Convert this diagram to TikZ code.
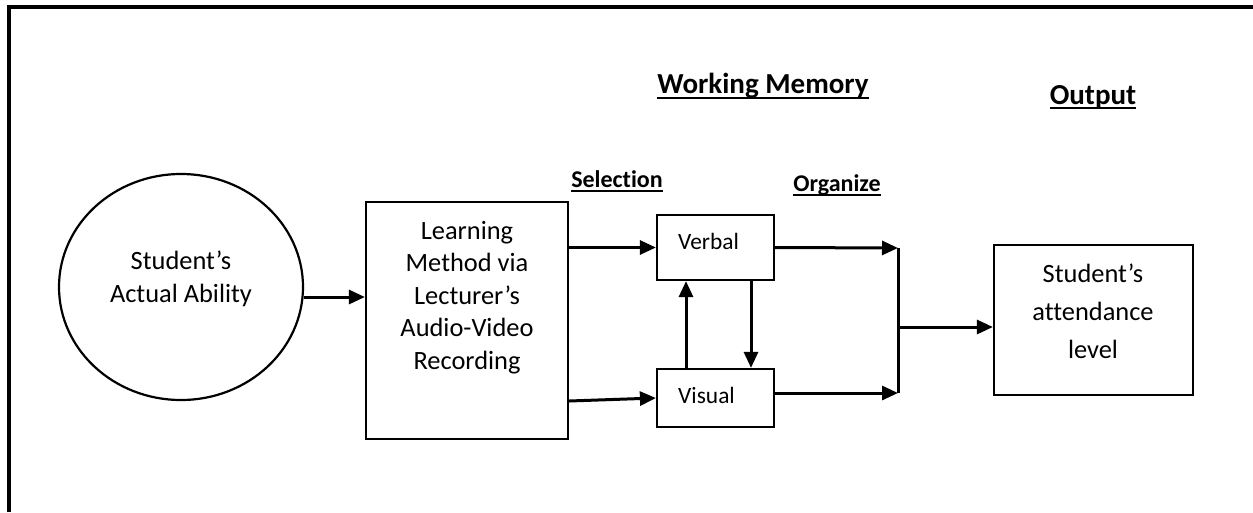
\documentclass[tikz,border=0pt]{standalone}
\usepackage{fontspec}
\setmainfont{Carlito}[Ligatures=NoCommon]
\usetikzlibrary{arrows.meta,shapes.geometric,calc}

% underline drawn as a rule of given depth and thickness
\newcommand\headrule[3]{\setbox0\hbox{#3}\rlap{\rule[-#1]{\wd0}{#2}}\box0}

\tikzset{
  boxline/.style={draw=black, line width=2.2pt},
  shapebox/.style={boxline, rectangle, inner sep=0pt},
  arr/.style={line width=3pt, -{Triangle[length=16pt,width=14pt]}},
  joinline/.style={line width=3pt},
  body/.style={font=\fontsize{26.4}{32.5}\selectfont, align=center, anchor=base, inner sep=0pt},
  smallbody/.style={font=\fontsize{23.4}{28}\selectfont, anchor=base west, inner sep=0pt},
  bighead/.style={font=\fontsize{29}{34}\selectfont\bfseries, anchor=base, inner sep=0pt},
  subhead/.style={font=\fontsize{24}{29}\selectfont\bfseries, anchor=base, inner sep=0pt}
}

\begin{document}
\begin{tikzpicture}[x=1pt, y=-1pt]
  \useasboundingbox (0,0) rectangle (1253,512);

  % open frame: top and left edges
  \draw[line width=3.5pt] (9,512) -- (9,7) -- (1253,7);

  % shapes
  \node[boxline, ellipse, minimum width=244pt, minimum height=226pt, inner sep=0pt] (ability) at (181,287) {};
  \node[shapebox, minimum width=202pt, minimum height=237pt] (method) at (467,320.5) {};
  \node[shapebox, minimum width=117pt, minimum height=65pt] (verbal) at (715.5,247.5) {};
  \node[shapebox, minimum width=117pt, minimum height=58pt] (visual) at (715.5,398) {};
  \node[shapebox, minimum width=199pt, minimum height=150pt] (attend) at (1093.5,320) {};

  % texts (anchored at the baseline of their last line)
  \node[body] (abilitytext) at (181,302) {Student’s\\Actual Ability};
  \node[body] (methodtext) at (467,369) {Learning\\Method via\\Lecturer’s\\Audio-Video\\Recording};
  \node[smallbody] (verbaltext) at (678,249) {Verbal};
  \node[smallbody] (visualtext) at (678,403) {Visual};
  \node[body, font=\fontsize{26.4}{38}\selectfont] (attendtext) at (1093,358) {Student’s\\attendance\\level};

  % headings
  \node[bighead] (wm) at (763,93) {\headrule{5.5pt}{2pt}{Working Memory}};
  \node[bighead] (outhead) at (1093,104) {\headrule{5pt}{2pt}{Output}};
  \node[subhead] (sel) at (617,187) {\headrule{4.5pt}{1.7pt}{Selection}};
  \node[subhead] (org) at (837,191) {\headrule{4.5pt}{1.7pt}{Organize}};

  % merge point before the output
  \coordinate (mtop) at (898,248);
  \coordinate (mbot) at (898,393);
  \coordinate (mmid) at (898,327);

  % connectors
  \draw[arr] ([yshift=-10pt]ability.east) -- ([yshift=-10pt]ability.east -| method.west);
  \draw[arr] (method.east |- verbal.west) -- (verbal.west);
  \draw[arr] ([yshift=-3pt]method.east |- visual.west) -- (visual.west);
  \draw[arr] ([xshift=-29.5pt]visual.north) -- ([xshift=-29.5pt]verbal.south);
  \draw[arr] ([xshift=35.5pt]verbal.south) -- ([xshift=35.5pt]visual.north);
  \draw[arr] (verbal.east) -- (mtop);
  \draw[arr] ([yshift=5pt]visual.east) -- (mbot);
  \draw[joinline] (mtop) -- (mbot);
  \draw[arr] (mmid) -- (mmid -| attend.west);
\end{tikzpicture}
\end{document}
